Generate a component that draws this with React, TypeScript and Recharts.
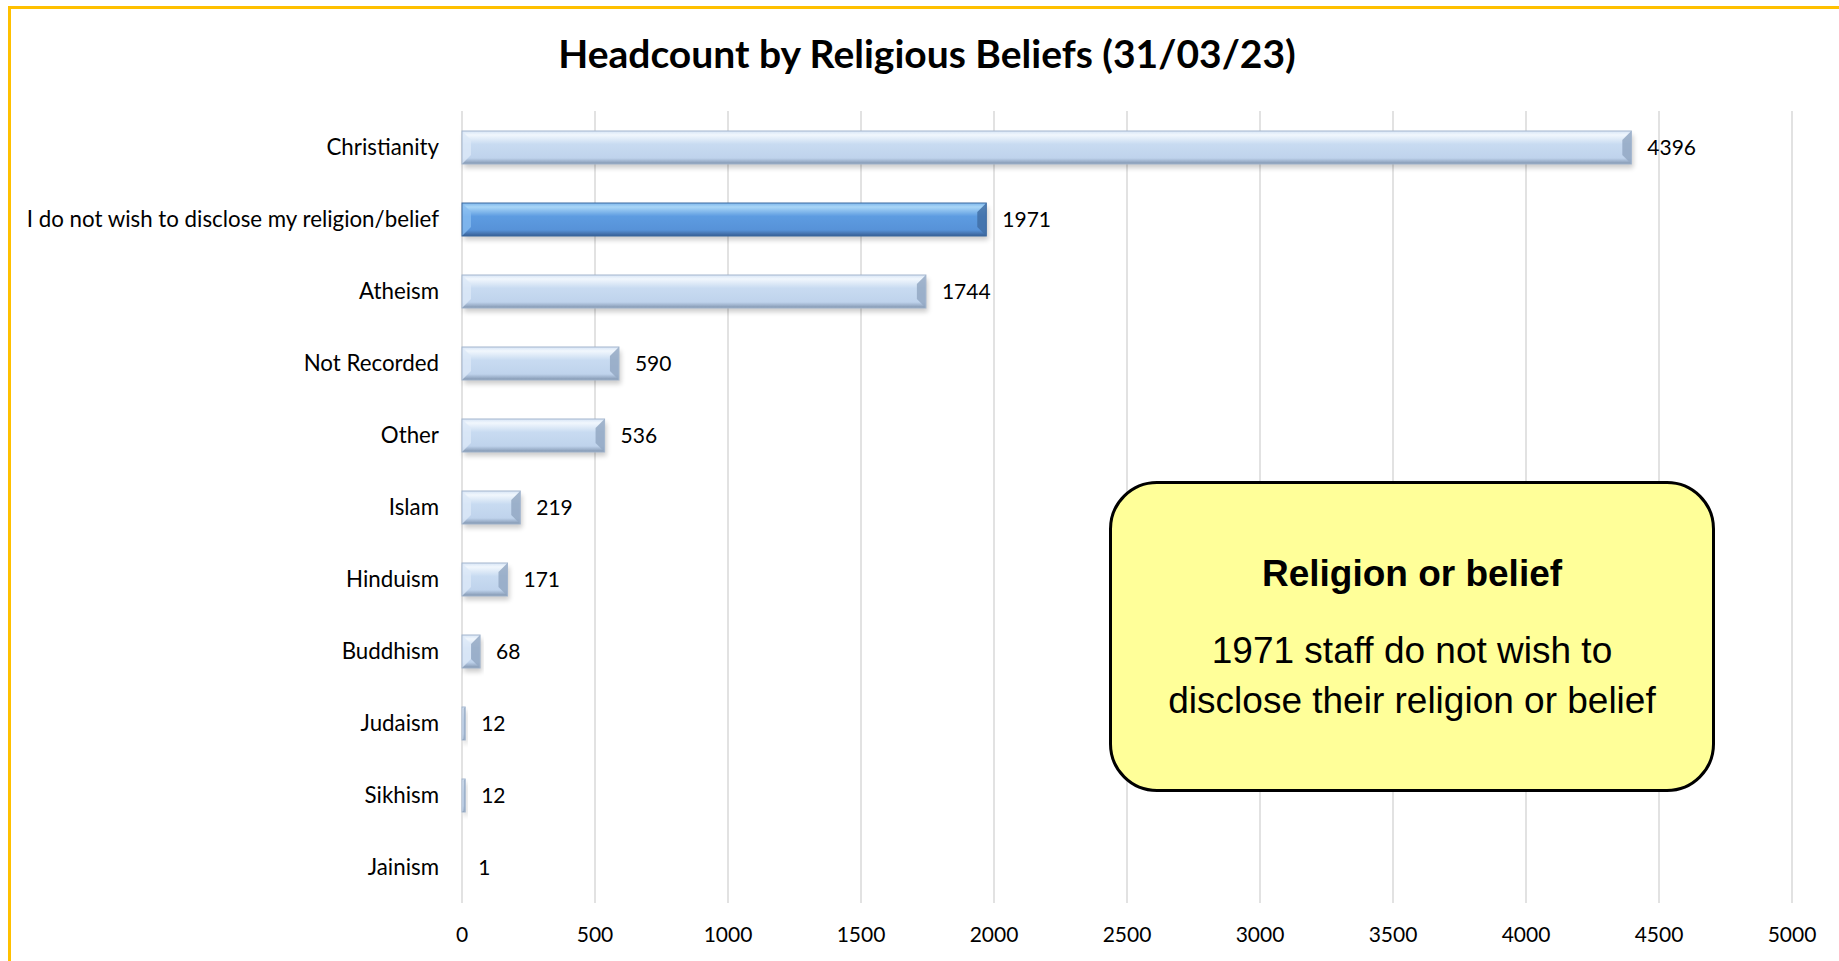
import { BarChart, Bar, XAxis, YAxis, CartesianGrid, LabelList } from 'recharts'

const categories = [
  'Christianity',
  'I do not wish to disclose my religion/belief',
  'Atheism',
  'Not Recorded',
  'Other',
  'Islam',
  'Hinduism',
  'Buddhism',
  'Judaism',
  'Sikhism',
  'Jainism'
]
const headcounts = [4396, 1971, 1744, 590, 536, 219, 171, 68, 12, 12, 1]
const highlighted = ['I do not wish to disclose my religion/belief']
const xTicks = [0, 500, 1000, 1500, 2000, 2500, 3000, 3500, 4000, 4500, 5000]

const chartTitle = 'Headcount by Religious Beliefs (31/03/23)'
const calloutTitle = 'Religion or belief'
const calloutLines = ['1971 staff do not wish to', 'disclose their religion or belief']

const data = categories.map((name, i) => ({ name, value: headcounts[i] }))

const LIGHT = { grad: 'url(#lightGrad)', left: '#DCE8F7', right: '#93A8C3', edge: '#A3B6CE' }
const DARK = { grad: 'url(#darkGrad)', left: '#86BBF0', right: '#416FA6', edge: '#3D6AA0' }

const BevelBar = (props: any) => {
  const { x, y, width, height, payload } = props
  if (!width || width <= 0.5) return null
  const c = highlighted.includes(payload.name) ? DARK : LIGHT
  const b = Math.min(9, height / 3.2, width / 2)
  const r = x + width
  const btm = y + height
  return (
    <g>
      <rect x={x + 2} y={y + 4} width={width} height={height} fill='#000' opacity={0.2} filter='url(#barShadow)' />
      <rect x={x} y={y} width={width} height={height} fill={c.grad} />
      <polygon points={`${x},${y} ${x + b},${y + b} ${x + b},${btm - b} ${x},${btm}`} fill={c.left} opacity={0.8} />
      <polygon points={`${r},${y} ${r - b},${y + b} ${r - b},${btm - b} ${r},${btm}`} fill={c.right} opacity={0.85} />
      <rect x={x} y={y} width={width} height={height} fill='none' stroke={c.edge} strokeWidth={1} />
    </g>
  )
}

export default function App() {
  return (
    <div style={{ position: 'absolute', left: 0, top: 0, width: 1839, height: 961, background: '#fff', overflow: 'hidden' }}>
      <div
        style={{
          position: 'absolute', left: 8, top: 6, width: 1839, height: 961,
          borderTop: '3px solid #FFC000', borderLeft: '3px solid #FFC000'
        }}
      />
      <div
        style={{
          position: 'absolute', left: 0, top: 31, width: 1854, textAlign: 'center',
          fontFamily: 'Lato', fontWeight: 700, fontSize: 39, color: '#000', lineHeight: '44px'
        }}
      >
        {chartTitle}
      </div>
      <BarChart
        width={1839}
        height={961}
        data={data}
        layout='vertical'
        margin={{ top: 111, right: 47, bottom: 28, left: 0 }}
        barSize={33}
        style={{ position: 'absolute', left: 0, top: 0 }}
      >
        <defs>
          <filter id='barShadow' x='-10%' y='-50%' width='120%' height='200%'>
            <feGaussianBlur stdDeviation='2.5' />
          </filter>
          <linearGradient id='lightGrad' x1='0' y1='0' x2='0' y2='1'>
            <stop offset='0%' stopColor='#D7E5F6' />
            <stop offset='12%' stopColor='#F1F7FD' />
            <stop offset='40%' stopColor='#C8DBF1' />
            <stop offset='82%' stopColor='#BFD3EC' />
            <stop offset='92%' stopColor='#9DB1CB' />
            <stop offset='100%' stopColor='#7F93AD' />
          </linearGradient>
          <linearGradient id='darkGrad' x1='0' y1='0' x2='0' y2='1'>
            <stop offset='0%' stopColor='#7DB6EC' />
            <stop offset='12%' stopColor='#A9D6F7' />
            <stop offset='40%' stopColor='#5D9CE1' />
            <stop offset='82%' stopColor='#5792D8' />
            <stop offset='92%' stopColor='#4776B2' />
            <stop offset='100%' stopColor='#355E94' />
          </linearGradient>
        </defs>
        <CartesianGrid horizontal={false} stroke='#D9D9D9' strokeWidth={1.5} />
        <XAxis
          type='number'
          domain={[0, 5000]}
          ticks={xTicks}
          axisLine={false}
          tickLine={false}
          tickSize={0}
          tickMargin={24}
          height={30}
          interval={0}
          tick={{ fill: '#000', fontSize: 21, fontFamily: 'Lato' }}
        />
        <YAxis
          type='category'
          dataKey='name'
          width={462}
          axisLine={false}
          tickLine={false}
          tickSize={0}
          tickMargin={23}
          interval={0}
          tick={{ fill: '#000', fontSize: 22.3, fontFamily: 'Lato' }}
        />
        <Bar dataKey='value' isAnimationActive={false} shape={(p: any) => <BevelBar {...p} />}>
          <LabelList dataKey='value' position='right' offset={16} fill='#000' fontSize={21} fontFamily='Lato' />
        </Bar>
      </BarChart>
      <div
        style={{
          position: 'absolute', left: 1109, top: 481, width: 606, height: 311, boxSizing: 'border-box',
          border: '3px solid #000', borderRadius: 48, background: '#FFFF99',
          fontFamily: 'Liberation Sans, Arial, sans-serif', color: '#000', textAlign: 'center'
        }}
      >
        <div style={{ position: 'absolute', left: 0, right: 0, top: 68, fontSize: 37, fontWeight: 700, lineHeight: '44px' }}>
          {calloutTitle}
        </div>
        {calloutLines.map((line, i) => (
          <div key={i} style={{ position: 'absolute', left: 0, right: 0, top: 145 + i * 50, fontSize: 37, lineHeight: '44px' }}>
            {line}
          </div>
        ))}
      </div>
    </div>
  )
}
